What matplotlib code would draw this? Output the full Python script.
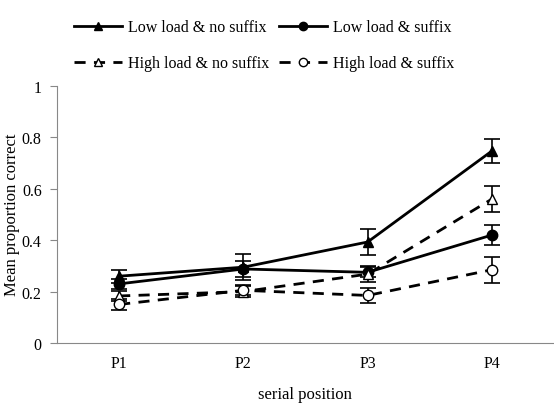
import numpy as np
import matplotlib.pyplot as plt

plt.rcParams['font.family'] = ['Liberation Serif', 'DejaVu Serif']

positions = ['P1', 'P2', 'P3', 'P4']

low_nosuf = [0.26, 0.295, 0.393, 0.747]
low_nosuf_err = [0.025, 0.05, 0.05, 0.045]
low_suf = [0.23, 0.288, 0.275, 0.42]
low_suf_err = [0.02, 0.03, 0.02, 0.04]
high_nosuf = [0.183, 0.2, 0.268, 0.56]
high_nosuf_err = [0.02, 0.02, 0.03, 0.05]
high_suf = [0.15, 0.205, 0.185, 0.285]
high_suf_err = [0.02, 0.02, 0.03, 0.05]

fig = plt.figure(figsize=(5.54, 4.06), dpi=100)
ax = fig.add_axes([57/554, 1-344/406, 497/554, 257/406])

x = np.arange(len(positions))
common = dict(color='black', lw=2, capsize=6, elinewidth=1.2, capthick=1.2, markersize=7.5)
h1 = ax.errorbar(x, low_nosuf, yerr=low_nosuf_err, marker='^', ls='-', mfc='black',
                 label='Low load & no suffix', **common)
h2 = ax.errorbar(x, low_suf, yerr=low_suf_err, marker='o', ls='-', mfc='black',
                 label='Low load & suffix', **common)
h3 = ax.errorbar(x, high_nosuf, yerr=high_nosuf_err, marker='^', ls=(0, (4, 3)), mfc='white',
                 label='High load & no suffix', **common)
h4 = ax.errorbar(x, high_suf, yerr=high_suf_err, marker='o', ls=(0, (4, 3)), mfc='white',
                 label='High load & suffix', **common)

ax.set_xlim(-0.5, 3.5)
ax.set_ylim(0, 1)
ax.set_xticks(x)
ax.set_xticklabels(positions, fontsize=11.5)
ax.set_yticks([0, 0.2, 0.4, 0.6, 0.8, 1.0])
ax.set_yticklabels(['0', '0.2', '0.4', '0.6', '0.8', '1'], fontsize=11.5)
ax.tick_params(axis='x', length=0, pad=9)
ax.tick_params(axis='y', length=5, color='#888888', pad=6)
ax.spines['top'].set_visible(False)
ax.spines['right'].set_visible(False)
ax.spines['bottom'].set_color('#888888')
ax.spines['left'].set_color('#888888')
fig.text(305/554, 1-395/406, 'serial position', fontsize=12, ha='center', va='center')
fig.text(12/554, 1-215/406, 'Mean proportion correct', fontsize=12, ha='center', va='center',
         rotation=90)

handles = [h[0] for h in (h1, h3, h2, h4)]
labels = ['Low load & no suffix', 'High load & no suffix', 'Low load & suffix', 'High load & suffix']
fig.legend(handles, labels, ncol=2, loc='upper left', bbox_to_anchor=(0.107, 0.985),
           frameon=False, fontsize=11.5, handlelength=3.0, markerscale=0.8,
           columnspacing=0.6, labelspacing=1.25, handletextpad=0.4)

fig.savefig('out.png', dpi=100)
